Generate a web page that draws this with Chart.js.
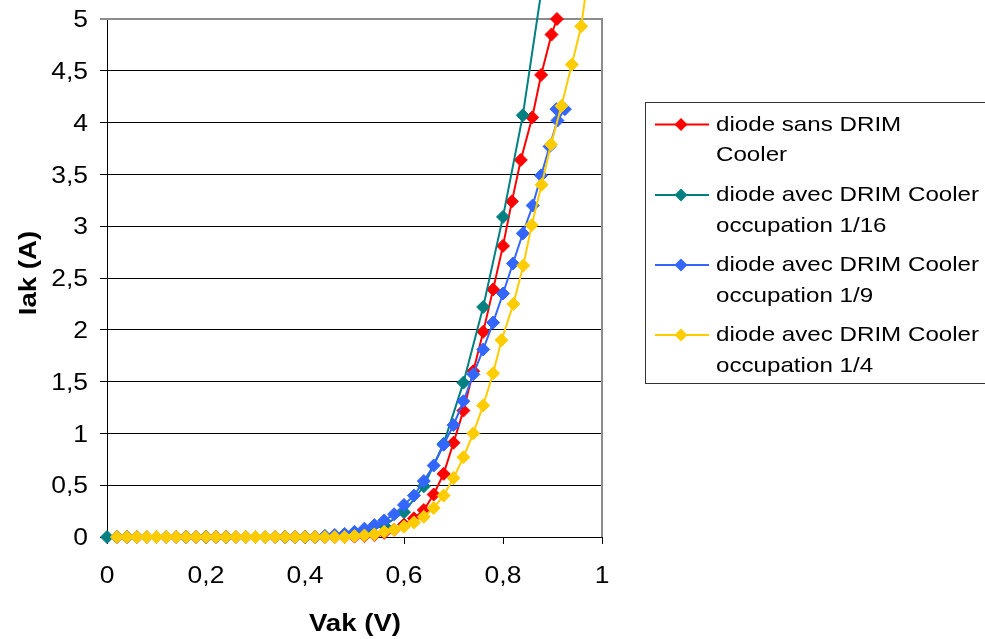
<!DOCTYPE html>
<html>
<head>
<meta charset="utf-8">
<script src="https://cdn.jsdelivr.net/npm/chart.js@4/dist/chart.umd.min.js"></script>
<style>
html,body{margin:0;padding:0;background:#fff;}
canvas{display:block;}
</style>
</head>
<body>
<canvas id="c" width="985" height="639"></canvas>
<script>
// ---- Data ----
const seriesNames = [
  ["diode sans DRIM", "Cooler"],
  ["diode avec DRIM Cooler", "occupation 1/16"],
  ["diode avec DRIM Cooler", "occupation 1/9"],
  ["diode avec DRIM Cooler", "occupation 1/4"]
];
const seriesColors = ["#FF0000", "#008080", "#3366FF", "#FFCC00"];

const redV = [0.02,0.04,0.06,0.08,0.10,0.12,0.14,0.16,0.18,0.20,0.22,0.24,0.26,0.28,0.30,0.32,0.34,0.36,0.38,0.40,0.42,0.44,0.46,0.48,0.50,0.52,0.54,0.56,0.58,0.60,0.62,0.64,0.66,0.68,0.70,0.72,0.74,0.76,0.78,0.80,0.818,0.836,0.859,0.877,0.898,0.909];
const redI = [0,0,0,0,0,0,0,0,0,0,0,0,0,0,0,0,0,0,0,0,0,0,0,0,0.005,0.01,0.02,0.04,0.07,0.12,0.18,0.26,0.41,0.61,0.91,1.22,1.60,1.98,2.39,2.81,3.24,3.64,4.05,4.46,4.85,5.0];

const tealV = [0,0.04,0.08,0.12,0.16,0.20,0.24,0.28,0.32,0.36,0.40,0.44,0.48,0.52,0.56,0.60,0.64,0.68,0.72,0.76,0.80,0.84,0.88];
const tealI = [0,0,0,0,0,0,0,0,0,0,0,0.01,0.02,0.05,0.11,0.24,0.49,0.90,1.49,2.22,3.09,4.07,5.35];

const blueV = [0.02,0.04,0.06,0.08,0.10,0.12,0.14,0.16,0.18,0.20,0.22,0.24,0.26,0.28,0.30,0.32,0.34,0.36,0.38,0.40,0.42,0.44,0.46,0.48,0.50,0.52,0.54,0.56,0.58,0.60,0.62,0.64,0.66,0.68,0.70,0.72,0.74,0.76,0.78,0.80,0.82,0.84,0.86,0.877,0.894,0.91,0.925,0.908];
const blueI = [0,0,0,0,0,0,0,0,0,0,0,0,0,0,0,0,0,0,0,0,0,0.01,0.02,0.03,0.05,0.08,0.115,0.16,0.22,0.31,0.40,0.54,0.69,0.89,1.08,1.31,1.57,1.81,2.07,2.35,2.64,2.93,3.20,3.49,3.77,4.02,4.13,4.13];

const yellowV = [0.02,0.04,0.06,0.08,0.10,0.12,0.14,0.16,0.18,0.20,0.22,0.24,0.26,0.28,0.30,0.32,0.34,0.36,0.38,0.40,0.42,0.44,0.46,0.48,0.50,0.52,0.54,0.56,0.58,0.60,0.62,0.64,0.66,0.68,0.70,0.72,0.74,0.76,0.78,0.797,0.821,0.841,0.858,0.878,0.897,0.918,0.939,0.958,0.97];
const yellowI = [0,0,0,0,0,0,0,0,0,0,0,0,0,0,0,0,0,0,0,0,0,0,0,0,0.01,0.015,0.025,0.05,0.07,0.10,0.14,0.195,0.28,0.40,0.57,0.77,1.00,1.27,1.58,1.90,2.25,2.62,3.01,3.40,3.79,4.16,4.56,4.93,5.35];

const yTickValues = [0,0.5,1,1.5,2,2.5,3,3.5,4,4.5,5];
const xTickValues = [0,0.2,0.4,0.6,0.8,1];
const xTitle = "Vak (V)";
const yTitle = "Iak (A)";

// ---- helpers ----
function pts(v, i){ return v.map((x, k) => ({x: x, y: i[k]})); }
function fmt(v){ return String(Number(v.toFixed(2))).replace('.', ','); }
function txt(ctx, s, x, y, font, align, sx, rot){
  ctx.save();
  ctx.translate(x, y);
  if (rot) ctx.rotate(rot);
  ctx.scale(sx, 1);
  ctx.font = font;
  ctx.textAlign = align;
  ctx.textBaseline = 'alphabetic';
  ctx.fillStyle = '#000';
  ctx.fillText(s, 0, 0);
  ctx.restore();
}
const FONT = '"Liberation Sans", Arial, sans-serif';

const allV = [redV, tealV, blueV, yellowV];
const allI = [redI, tealI, blueI, yellowI];
const datasets = allV.map((v, k) => ({
  label: seriesNames[k].join(' '),
  data: pts(v, allI[k]),
  showLine: true,
  borderColor: seriesColors[k],
  backgroundColor: seriesColors[k],
  borderWidth: 2,
  pointStyle: 'rectRot',
  pointRadius: 6.5,
  pointBorderWidth: 1,
  pointBorderColor: seriesColors[k],
  pointBackgroundColor: seriesColors[k],
  clip: false,
  order: 3 - k
}));

const decor = {
  id: 'decor',
  beforeDatasetsDraw(chart){
    const ctx = chart.ctx, a = chart.chartArea;
    ctx.save();
    ctx.strokeStyle = '#8c8c8c';
    ctx.lineWidth = 2;
    ctx.beginPath();
    ctx.moveTo(100, a.top);
    ctx.lineTo(a.right, a.top);
    ctx.lineTo(a.right, a.bottom);
    ctx.stroke();
    ctx.restore();
  },
  afterDraw(chart){
    const ctx = chart.ctx, xs = chart.scales.x, ys = chart.scales.y;
    const tickFont = '23px ' + FONT;
    yTickValues.forEach(v => {
      txt(ctx, fmt(v), 88, ys.getPixelForValue(v) + 8.2, tickFont, 'right', 1.15);
    });
    xTickValues.forEach(v => {
      txt(ctx, fmt(v), xs.getPixelForValue(v), 583, tickFont, 'center', 1.15);
    });
    const titleFont = 'bold 24px ' + FONT;
    txt(ctx, xTitle, 355, 630.5, titleFont, 'center', 1.15);
    ctx.save();
    ctx.translate(27, 273);
    ctx.rotate(-Math.PI / 2);
    ctx.scale(1.15, 1);
    ctx.font = titleFont;
    ctx.textAlign = 'center';
    ctx.textBaseline = 'alphabetic';
    ctx.fillStyle = '#000';
    ctx.fillText(yTitle, 0, 8.6);
    ctx.restore();

    // legend
    ctx.save();
    ctx.strokeStyle = '#333';
    ctx.lineWidth = 1;
    ctx.strokeRect(645.5, 102.5, 345, 281);
    ctx.restore();
    const legFont = '21px ' + FONT;
    const base = [130.5, 201, 271, 341];
    seriesNames.forEach((lines, k) => {
      const ly = base[k] - 6;
      ctx.save();
      ctx.strokeStyle = seriesColors[k];
      ctx.lineWidth = 2;
      ctx.beginPath();
      ctx.moveTo(655, ly);
      ctx.lineTo(709, ly);
      ctx.stroke();
      ctx.fillStyle = seriesColors[k];
      ctx.beginPath();
      ctx.moveTo(681, ly - 6.5);
      ctx.lineTo(687.5, ly);
      ctx.lineTo(681, ly + 6.5);
      ctx.lineTo(674.5, ly);
      ctx.closePath();
      ctx.fill();
      ctx.restore();
      lines.forEach((s, j) => {
        txt(ctx, s, 716, base[k] + j * 30.5, legFont, 'left', 1.15);
      });
    });
  }
};

new Chart(document.getElementById('c'), {
  type: 'scatter',
  data: { datasets: datasets },
  options: {
    responsive: false,
    animation: false,
    devicePixelRatio: 1,
    layout: { padding: { left: 0, right: 383, top: 19, bottom: 0 } },
    plugins: { legend: { display: false }, tooltip: { enabled: false } },
    scales: {
      x: {
        type: 'linear', min: 0, max: 1,
        ticks: { stepSize: 0.2, display: false },
        grid: { drawOnChartArea: false, drawTicks: true, tickLength: 7, color: '#000', lineWidth: 1 },
        border: { color: '#000', width: 1 },
        afterFit(s){ s.height = 102; }
      },
      y: {
        type: 'linear', min: 0, max: 5,
        ticks: { stepSize: 0.5, display: false },
        grid: { drawTicks: true, tickLength: 7, color: '#000', lineWidth: 1 },
        border: { color: '#000', width: 1 },
        afterFit(s){ s.width = 107; }
      }
    }
  },
  plugins: [decor]
});
</script>
</body>
</html>
